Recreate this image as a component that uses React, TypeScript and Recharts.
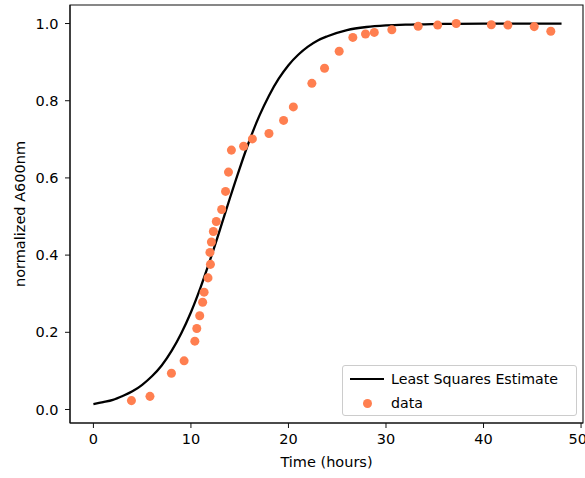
import React from 'react';
import { ComposedChart, Line, Scatter, XAxis, YAxis, Legend, ReferenceArea } from 'recharts';

// least squares fit curve
const fitHours = [0, 1, 2, 3, 4, 5, 6, 7, 8, 9, 10, 11, 12, 13, 14, 15, 16, 17, 18, 19, 20, 21, 22, 23, 24, 26, 28, 30, 32, 34, 36, 40, 44, 48];
const fitValues = [0.014, 0.019, 0.025, 0.035, 0.047, 0.064, 0.086, 0.114, 0.151, 0.197, 0.252, 0.317, 0.39, 0.468, 0.548, 0.625, 0.697, 0.76, 0.813, 0.857, 0.892, 0.919, 0.94, 0.956, 0.967, 0.983, 0.991, 0.995, 0.997, 0.998, 0.999, 1.0, 1.0, 1.0];

// measured points
const obsHours = [3.9, 5.8, 8.0, 9.3, 10.4, 10.6, 10.9, 11.2, 11.35, 11.75, 12.0, 11.95, 12.1, 12.3, 12.6, 13.15, 13.55, 13.85, 14.15, 15.4, 16.3, 18.0, 19.5, 20.5, 22.4, 23.7, 25.2, 26.6, 27.9, 28.8, 30.6, 33.3, 35.3, 37.2, 40.8, 42.5, 45.2, 46.9];
const obsValues = [0.023, 0.034, 0.094, 0.126, 0.177, 0.21, 0.243, 0.278, 0.304, 0.341, 0.376, 0.407, 0.434, 0.461, 0.487, 0.518, 0.565, 0.615, 0.672, 0.682, 0.701, 0.715, 0.749, 0.784, 0.845, 0.884, 0.928, 0.964, 0.973, 0.977, 0.984, 0.993, 0.996, 1.0, 0.997, 0.996, 0.992, 0.98];

const xTicks = [0, 10, 20, 30, 40, 50];
const yTicks = [0, 0.2, 0.4, 0.6, 0.8, 1.0];

const xDomain = [-2.4, 50.2];
const yDomain = [-0.035, 1.048];

const fitData = fitHours.map((t, i) => ({ t, y: fitValues[i] }));
const obsData = obsHours.map((t, i) => ({ t, y: obsValues[i] }));

const FONT = '"DejaVu Sans", sans-serif';
const tickStyle = { fontSize: 14.5, fill: '#000', fontFamily: FONT };

function LegendBox(props: any) {
  const items = props.payload || [];
  return (
    <div style={{
      width: 235, height: 51, boxSizing: 'border-box', border: '1px solid #cccccc', borderRadius: 3,
      background: 'rgba(255,255,255,0.8)', paddingTop: 1, fontFamily: FONT, fontSize: 14.2, color: '#000',
    }}>
      {items.map((entry: any) => (
        <div key={entry.value} style={{ height: 24, display: 'flex', alignItems: 'center' }}>
          <div style={{ width: 48, display: 'flex', justifyContent: 'center' }}>
            {entry.type === 'line'
              ? <div style={{ width: 34, height: 2.3, background: '#000' }} />
              : <div style={{ width: 9, height: 9, borderRadius: '50%', background: '#ff7f50' }} />}
          </div>
          <span style={{ whiteSpace: 'nowrap' }}>{entry.value}</span>
        </div>
      ))}
    </div>
  );
}

export default function App() {
  return (
    <div style={{ position: 'absolute', left: 0, top: 0, background: '#fff' }}>
      <ComposedChart width={585} height={478} margin={{ top: 5, right: 2, bottom: 0, left: 0 }} style={{ fontFamily: FONT }}>
        <XAxis
          dataKey="t" type="number" domain={xDomain} ticks={xTicks} allowDataOverflow
          height={55} tickSize={5} tickMargin={6} tick={tickStyle}
          stroke="#111" axisLine={{ stroke: '#111', strokeWidth: 1.1 }}
          label={{ value: 'Time (hours)', position: 'insideBottom', offset: 11, style: { fontSize: 14.5, fill: '#000', fontFamily: FONT } }}
        />
        <YAxis
          dataKey="y" type="number" domain={yDomain} ticks={yTicks} allowDataOverflow
          width={70} tickSize={5} tickMargin={6.5} tick={tickStyle}
          tickFormatter={(v: number) => v.toFixed(1)}
          stroke="#111" axisLine={{ stroke: '#111', strokeWidth: 1.1 }}
          label={{ value: 'normalized A600nm', angle: -90, position: 'insideLeft', offset: 20, style: { textAnchor: 'middle', fontSize: 14.5, fill: '#000', fontFamily: FONT } }}
        />
        {/* frame around the plot area (matplotlib spines) */}
        <ReferenceArea
          x1={xDomain[0]} x2={xDomain[1]} y1={yDomain[0]} y2={yDomain[1]}
          fill="none" fillOpacity={0} stroke="#111" strokeWidth={1.1} ifOverflow="visible"
        />
        <Line
          data={fitData} dataKey="y" name="Least Squares Estimate" type="monotone"
          stroke="#000" strokeWidth={2.3} dot={false} activeDot={false} legendType="line" isAnimationActive={false}
        />
        <Scatter data={obsData} dataKey="y" name="data" fill="#ff7f50" legendType="circle" isAnimationActive={false} />
        <Legend
          layout="vertical" align="center" verticalAlign="middle"
          content={<LegendBox />}
          wrapperStyle={{ left: 342, top: 365, width: 235, height: 51 }}
        />
      </ComposedChart>
    </div>
  );
}
